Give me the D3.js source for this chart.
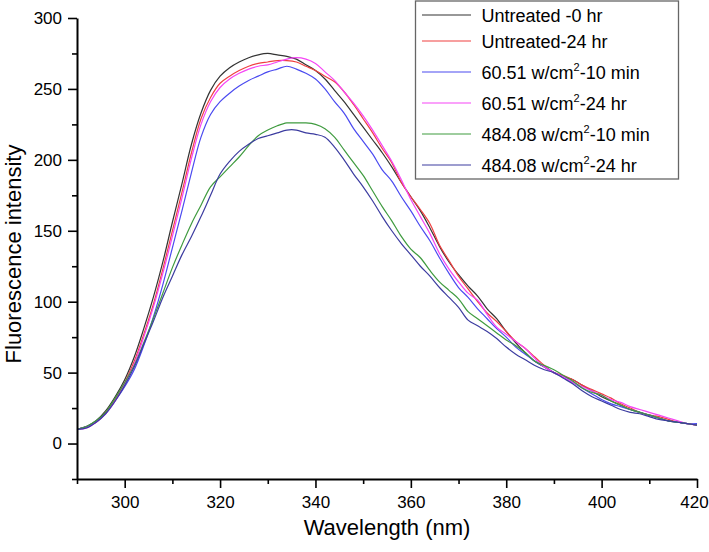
<!DOCTYPE html>
<html>
<head>
<meta charset="utf-8">
<script src="https://cdn.jsdelivr.net/npm/d3@7"></script>
<style>
  html, body { margin: 0; padding: 0; background: #fff; }
  svg { display: block; font-family: "Liberation Sans", Arial, sans-serif; }
</style>
</head>
<body>
<script>
// ---- data ----
const wavelength = [290,292,294,296,298,300,302,304,306,308,310,312,314,316,318,320,322,324,326,328,
  330,332,334,336,338,340,342,344,346,348,350,352,354,356,358,360,362,364,366,368,
  370,372,374,376,378,380,382,384,386,388,390,392,394,396,398,400,402,404,406,408,
  410,412,414,416,418,420];

const untreated0 = [10,12,16,23,33,45,61,81,103,128, 156,183,211,233,249,259,265,269,272,274,
  275,274,273,271,267,263,257,249,241,232, 223,214,205,195,184,174,164,152,139,128,
  119,111,104,95,88,79,71,64,58,54, 50,47,45,41,37,33,30,27,24,22, 20,18,16,15,14,13];

const untreated24 = [10,12,15,22,31,43,58,77,98,123, 150,177,205,229,244,254,259,263,266,268,
  269,270,270,269,266,263,259,255,248,239, 229,219,208,198,184,174,165,155,140,129,
  118,109,100,92,86,79,72,67,61,55, 50,48,45,41,38,35,32,28,25,22, 20,19,17,15,14,13];

const low10min = [10,12,15,21,30,40,52,69,89,112, 138,164,191,216,232,241,247,252,256,259,
  262,264,266,264,261,257,250,241,233,222, 213,204,193,185,174,164,153,143,131,120,
  110,103,95,88,81,75,68,63,58,54, 50,47,43,39,35,31,28,26,24,22, 20,18,16,15,14,14];

const low24hr = [10,11,15,21,30,42,56,75,96,120, 146,173,201,225,241,251,257,261,264,266,
  267,269,271,272,271,268,262,256,248,240, 231,221,210,199,186,172,160,148,134,123,
  114,106,101,91,82,77,72,67,60,54, 50,47,43,40,37,34,31,29,26,24, 22,20,18,16,14,13];

const high10min = [10,12,16,22,32,43,55,71,88,106, 124,140,155,168,181,188,195,202,210,217,
  221,224,226,226,226,225,222,216,207,198, 189,178,167,157,146,137,131,122,114,108,
  102,93,88,83,78,73,69,64,58,55, 52,48,44,39,36,34,30,27,24,22, 20,18,16,15,14,13];

const high24hr = [10,11,15,21,30,41,54,70,86,103, 118,133,146,160,175,190,199,206,211,215,
  217,219,221,221,219,218,216,209,200,190, 181,171,160,150,141,133,125,118,110,103,
  96,87,83,79,74,68,63,59,55,52, 50,46,42,37,33,30,27,24,22,21, 19,17,16,15,14,13];

const seriesNames = ["Untreated -0 hr", "Untreated-24 hr", "60.51 w/cm|2|-10 min",
  "60.51 w/cm|2|-24 hr", "484.08 w/cm|2|-10 min", "484.08 w/cm|2|-24 hr"];
const seriesValues = [untreated0, untreated24, low10min, low24hr, high10min, high24hr];
const seriesColors = ["#333333", "#ef4040", "#4a4af0", "#f545f5", "#3f9b3f", "#3c3ca0"];

const xMajorTicks = [300,320,340,360,380,400,420];
const xMinorTicks = [290,310,330,350,370,390,410];
const yMajorTicks = [0,50,100,150,200,250,300];
const yMinorTicks = [-25,25,75,125,175,225,275];

const xTitle = "Wavelength (nm)";
const yTitle = "Fluorescence intensity";

// ---- chart ----
const W = 709, H = 552;
const svg = d3.select("body").append("svg").attr("width", W).attr("height", H);

const x = d3.scaleLinear().domain([290, 420]).range([77, 697]);
const y = d3.scaleLinear().domain([-25, 300]).range([479, 18]);

// curves
const line = d3.line()
  .x((d, i) => x(wavelength[i]))
  .y(d => y(d))
  .curve(d3.curveCatmullRom.alpha(0.5));

svg.append("g").selectAll("path")
  .data(seriesValues)
  .join("path")
  .attr("fill", "none")
  .attr("stroke", (d, i) => seriesColors[i])
  .attr("stroke-width", 1.2)
  .attr("d", line);

// axes
function styleAxis(g) {
  g.select(".domain").attr("stroke", "#000").attr("stroke-width", 2);
  g.selectAll(".tick line").attr("stroke", "#000").attr("stroke-width", 1.6);
  g.selectAll(".tick text").attr("fill", "#000").style("font-size", "17px")
    .style("font-family", "'Liberation Sans', Arial, sans-serif");
}

svg.append("g").attr("transform", "translate(0,479)")
  .call(d3.axisBottom(x).tickValues(xMinorTicks).tickSize(5).tickFormat(""))
  .call(g => g.select(".domain").remove())
  .call(styleAxis);
svg.append("g").attr("transform", "translate(0,479)")
  .call(d3.axisBottom(x).tickValues(xMajorTicks).tickSize(9).tickSizeOuter(0).tickPadding(8).tickFormat(d3.format("d")))
  .call(styleAxis)
  .call(g => g.selectAll(".tick text").filter(d => d === 420).attr("dx", -3));

svg.append("g").attr("transform", "translate(77,0)")
  .call(d3.axisLeft(y).tickValues(yMinorTicks).tickSize(5).tickFormat(""))
  .call(g => g.select(".domain").remove())
  .call(styleAxis);
svg.append("g").attr("transform", "translate(77,0)")
  .call(d3.axisLeft(y).tickValues(yMajorTicks).tickSize(9).tickSizeOuter(0).tickPadding(6).tickFormat(d3.format("d")))
  .call(styleAxis);

// titles
svg.append("text")
  .attr("x", (x.range()[0] + x.range()[1]) / 2)
  .attr("y", 535)
  .attr("text-anchor", "middle")
  .style("font-size", "22px")
  .text(xTitle);

svg.append("text")
  .attr("transform", `translate(21,254) rotate(-90)`)
  .attr("text-anchor", "middle")
  .style("font-size", "22px")
  .text(yTitle);

// legend
const legend = svg.append("g");
legend.append("rect")
  .attr("x", 415.5).attr("y", 1).attr("width", 263).attr("height", 178)
  .attr("fill", "#fff").attr("stroke", "#666").attr("stroke-width", 1.3);

const rowBase = [22, 48, 79, 110, 141, 172];
const rows = legend.selectAll("g.row").data(seriesNames).join("g").attr("class", "row");
rows.append("line")
  .attr("x1", 422).attr("x2", 471)
  .attr("y1", (d, i) => rowBase[i] - 7).attr("y2", (d, i) => rowBase[i] - 7)
  .attr("stroke", (d, i) => seriesColors[i]).attr("stroke-width", 1.2);
rows.each(function(d, i) {
  const t = d3.select(this).append("text")
    .attr("x", 481.5).attr("y", rowBase[i])
    .style("font-size", "18px").attr("fill", "#000");
  const parts = d.split("|");
  t.append("tspan").text(parts[0]);
  if (parts.length > 1) {
    t.append("tspan").attr("dy", -8).style("font-size", "11px").text(parts[1]);
    t.append("tspan").attr("dy", 8).text(parts[2]);
  }
});
</script>
</body>
</html>
